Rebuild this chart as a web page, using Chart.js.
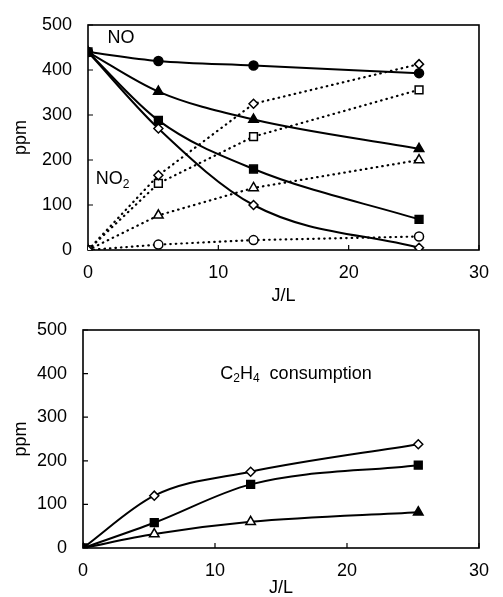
<!DOCTYPE html>
<html>
<head>
<meta charset="utf-8">
<script src="https://cdn.jsdelivr.net/npm/chart.js@4.4.1/dist/chart.umd.min.js"></script>
<style>
    body { margin: 0; background: #fff; width: 503px; height: 597px; overflow: hidden; position: relative; }
    canvas { position: absolute; left: 0; }
    #topChart { top: 0; }
    #bottomChart { top: 305px; }
</style>
</head>
<body>
<canvas id="topChart" width="503" height="305"></canvas>
<canvas id="bottomChart" width="503" height="292"></canvas>
<script>
// Energy density J/L (x positions shared by every series)
const jl = [0, 5.4, 12.7, 25.4];

// Top chart: NO decay (solid) and NO2 formation (dotted), ppm
const noCircle   = [440, 420, 410, 393];
const noTriangle = [440, 352, 290, 225];
const noSquare   = [440, 288, 180, 68];
const noDiamond  = [440, 270, 100, 5];

const no2Diamond  = [0, 166, 325, 413];
const no2Square   = [0, 148, 252, 356];
const no2Triangle = [0, 77, 138, 200];
const no2Circle   = [0, 12, 22, 30];

// Bottom chart: C2H4 consumption, ppm
const c2Diamond  = [0, 120, 175, 238];
const c2Square   = [0, 58, 146, 190];
const c2Triangle = [0, 32, 60, 82];

// Axis ticks
const xTicks = [0, 10, 20, 30];
const yTicks = [0, 100, 200, 300, 400, 500];

const FONT = "'Liberation Sans', Arial, sans-serif";

// Build one dataset
function series(vals, style, fill, dotted, radius) {
    return {
        data: jl.map((x, i) => ({ x: x, y: vals[i] })),
        borderColor: '#000',
        borderWidth: dotted ? 2.2 : 2,
        borderDash: dotted ? [0.5, 5] : [],
        borderCapStyle: dotted ? 'round' : 'butt',
        cubicInterpolationMode: dotted ? 'default' : 'monotone',
        tension: 0,
        pointStyle: style,
        pointRadius: radius,
        pointBackgroundColor: fill,
        pointBorderColor: '#000',
        pointBorderWidth: 1.5,
        fill: false
    };
}

// Frame, inward tick marks and the text notes
const framePlugin = {
    id: 'frame',
    beforeDatasetsDraw(chart) {
        const { ctx, chartArea: a, scales } = chart;
        ctx.save();
        ctx.strokeStyle = '#000';
        ctx.lineWidth = 1.6;
        ctx.strokeRect(a.left, a.top, a.right - a.left, a.bottom - a.top);
        ctx.lineWidth = 1.2;
        ctx.beginPath();
        yTicks.forEach(v => {
            const y = scales.y.getPixelForValue(v);
            ctx.moveTo(a.left, y); ctx.lineTo(a.left + 5, y);
        });
        xTicks.forEach(v => {
            const x = scales.x.getPixelForValue(v);
            ctx.moveTo(x, a.bottom); ctx.lineTo(x, a.bottom - 5);
        });
        ctx.stroke();
        ctx.restore();
    },
    afterDraw(chart, args, opts) {
        const { ctx, scales } = chart;
        ctx.save();
        ctx.fillStyle = '#000';
        ctx.textBaseline = 'middle';
        (opts.notes || []).forEach(note => {
            let x = scales.x.getPixelForValue(note.x);
            const y = scales.y.getPixelForValue(note.y);
            note.parts.forEach(([txt, sub]) => {
                ctx.font = (sub ? '12px ' : '18px ') + FONT;
                ctx.fillText(txt, x, sub ? y + 5 : y);
                x += ctx.measureText(txt).width;
            });
        });
        ctx.restore();
    }
};

function axes(yWidth, xHeight) {
    const tickFont = { family: FONT, size: 18, lineHeight: 1 };
    return {
        x: {
            type: 'linear', min: 0, max: 30,
            afterBuildTicks: s => { s.ticks = xTicks.map(v => ({ value: v })); },
            ticks: { color: '#000', font: tickFont, padding: 14, maxRotation: 0 },
            grid: { display: false, drawTicks: false },
            border: { display: false },
            title: { display: true, text: 'J/L', color: '#000', font: tickFont, padding: 0 },
            afterFit: s => { s.height = xHeight; }
        },
        y: {
            type: 'linear', min: 0, max: 500,
            afterBuildTicks: s => { s.ticks = yTicks.map(v => ({ value: v })); },
            ticks: { color: '#000', font: tickFont, padding: 16 },
            grid: { display: false, drawTicks: false },
            border: { display: false },
            title: { display: true, text: 'ppm', color: '#000', font: tickFont, padding: { top: 12, bottom: 0 } },
            afterFit: s => { s.width = yWidth; }
        }
    };
}

function baseOptions(pad, yWidth, xHeight, notes) {
    return {
        responsive: false,
        devicePixelRatio: 1,
        animation: false,
        layout: { padding: pad },
        scales: axes(yWidth, xHeight),
        plugins: {
            legend: { display: false },
            tooltip: { enabled: false },
            frame: { notes: notes }
        }
    };
}

// Top chart
new Chart(document.getElementById('topChart'), {
    type: 'line',
    data: {
        datasets: [
            series(noSquare, 'rect', '#000', false, 5.5),
            series(noCircle, 'circle', '#000', false, 4.5),
            series(noTriangle, 'triangle', '#000', false, 5.5),
            series(noDiamond, 'rectRot', '#fff', false, 4.5),
            series(no2Diamond, 'rectRot', '#fff', true, 4.5),
            series(no2Square, 'rect', '#fff', true, 5.5),
            series(no2Triangle, 'triangle', '#fff', true, 5.5),
            series(no2Circle, 'circle', '#fff', true, 4.5)
        ]
    },
    options: baseOptions({ left: 0, right: 11, top: 21, bottom: 0 }, 88, 55, [
        { x: 1.5, y: 471, parts: [['NO', 0]] },
        { x: 0.6, y: 157, parts: [['NO', 0], ['2', 1]] }
    ]),
    plugins: [framePlugin]
});

// Bottom chart
const c2Tri = series(c2Triangle, 'triangle', ['#000', '#fff', '#fff', '#000'], false, 5.5);
new Chart(document.getElementById('bottomChart'), {
    type: 'line',
    data: {
        datasets: [
            series(c2Square, 'rect', '#000', false, 5.5),
            series(c2Diamond, 'rectRot', '#fff', false, 4.5),
            c2Tri
        ]
    },
    options: baseOptions({ left: 0, right: 12, top: 12, bottom: 0 }, 83, 49, [
        { x: 10.4, y: 400, parts: [['C', 0], ['2', 1], ['H', 0], ['4', 1], ['  consumption', 0]] }
    ]),
    plugins: [framePlugin]
});
</script>
</body>
</html>
